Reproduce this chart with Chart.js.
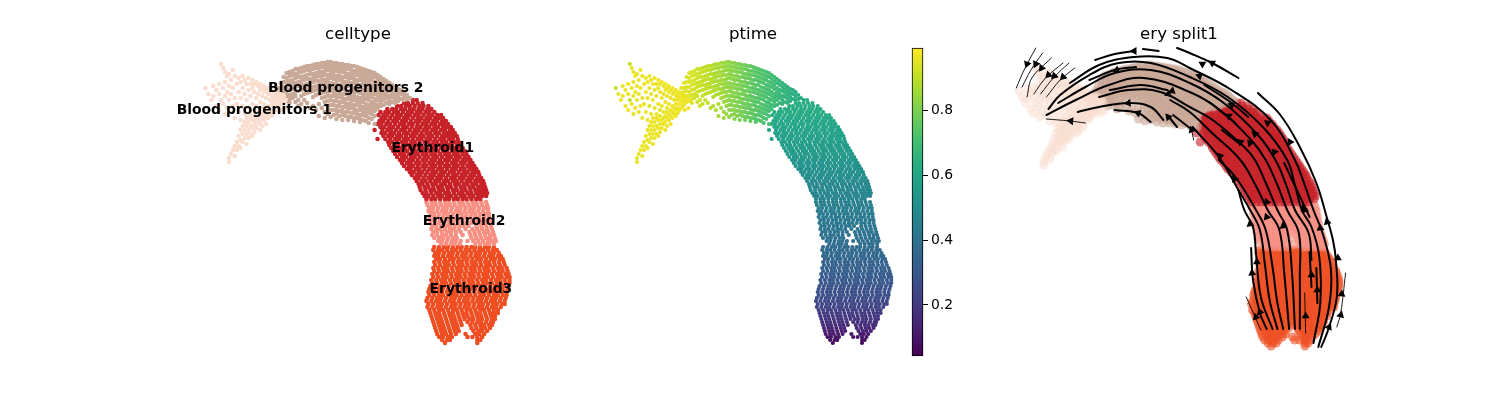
<!DOCTYPE html>
<html>
<head>
<meta charset="utf-8">
<title>celltype / ptime / ery split1</title>
<script src="https://cdn.jsdelivr.net/npm/chart.js@4"></script>
<style>
  html, body { margin: 0; background: #fff; overflow: hidden; }
  canvas { position: absolute; top: 0; }
</style>
</head>
<body>
<canvas id="panel-type" style="left:178px" width="360" height="400"></canvas>
<canvas id="panel-time" style="left:600px" width="306" height="400"></canvas>
<canvas id="colorbar" style="left:911px" width="52" height="400"></canvas>
<canvas id="panel-flow" style="left:1000px" width="358" height="400"></canvas>
<script>
const TITLES = ['celltype', 'ptime', 'ery split1'];
const CELL_TYPES = ['Blood progenitors 1', 'Blood progenitors 2', 'Erythroid1', 'Erythroid2', 'Erythroid3'];
const TYPE_COLORS = ['#f9decf', '#c9a997', '#c72228', '#f79083', '#ef4e22'];
const TYPE_ALPHA = ['80', '99', '99', '99', '99'];
const VIRIDIS = ['#440154', '#482475', '#414487', '#355f8d', '#2a788e', '#21918c', '#22a884', '#44bf70', '#7ad151', '#bddf26', '#fde725'];
const CBAR_RANGE = [0.043, 0.991];
const CBAR_TICKS = [0.2, 0.4, 0.6, 0.8];

// label, x, y (embedding units)
const typeLabels = [
  [CELL_TYPES[0], 252, 110], [CELL_TYPES[1], 345.5, 88],
  [CELL_TYPES[2], 434.5, 148], [CELL_TYPES[3], 466.5, 221], [CELL_TYPES[4], 473.5, 289],
];

// columns: [x, ptime, y, y ...]
const bp1Cols = [[202,.9,88],[205,.96,94],[208,.96,100],[210,.96,86,96],[213,.96,90,106],[216,.97,84,94,110],[218,.9,64,100],[220,.96,68,88,104],[222,.96,72,82,96,114],[224,.97,76,92,108],[226,.96,74,86,100,158,162],[228,.96,80,94,112,154],[230,.97,70,88,106,150],[232,.96,76,98,118,146,156],[234,.96,84,104,142,150],[236,.97,78,92,112,136,146],[238,.96,82,98,120,130,140,148],[240,.96,76,88,106,126,134,142],[242,.96,80,94,114,122,130,138],[244,.97,84,100,118,126,134,144],[246,.96,78,90,108,122,130,138],[248,.96,84,96,114,118,126,134],[250,.97,80,88,104,120,128,136],[252,.96,84,92,110,116,124,132],[254,.97,82,98,106,120,128],[256,.96,86,94,112,118,124],[258,.97,84,90,102,116,122,130],[260,.96,88,96,108,112,118,126],[262,.97,86,92,104,114,120],[264,.96,90,98,110,116,124],[266,.97,88,94,106,112,118],[268,.96,92,100,108,114],[270,.97,90,96,104,110,116],[272,.96,94,100,108,113],[274,.97,92,98,104,110],[276,.97,96,102,108],[278,.96,94,100,106],[280,.97,98,104,110],[282,.96,96,102],[284,.97,100,108]];
const bp2Cols = [[273,.95,93,98],[276,.95,88,93,98],[279,.95,83,88,92,97,101],[282,.94,77,82,87,91,96,100],[285,.94,73,78,82,87,92,96,101],[288,.94,72,76,81,85,90,95,99,103],[291,.93,71,75,80,84,89,94,98],[294,.92,69,74,78,83,87,92,96,102],[297,.92,69,73,77,82,86,91,100,106],[300,.91,68,72,77,81,85,90,96,104],[303,.9,67,71,76,80,85,89,94,100],[306,.9,66,70,75,79,84,88,93,103],[309,.89,66,70,74,79,83,87,92,108],[312,.88,65,69,74,78,82,87,91,97,106],[315,.87,64,68,73,77,81,86,90,95,110],[318,.87,64,68,72,76,81,85,89,94,104,116],[321,.86,63,67,72,76,80,84,89,93,98,108],[324,.85,63,67,71,75,80,84,88,92,97,102,112,118],[327,.84,62,66,70,75,79,83,87,92,96,101,106,114],[330,.83,62,66,70,74,78,83,87,91,96,100,105,110,117],[333,.82,63,67,71,75,79,84,88,92,96,101,105,110,115],[336,.82,63,67,71,76,80,84,88,93,97,101,106,110,114,119],[339,.81,64,68,72,76,80,85,89,93,97,102,106,111,116],[342,.8,64,68,72,77,81,85,89,94,98,102,107,111,115,120],[345,.79,65,69,73,77,82,86,90,94,99,103,107,112,116],[348,.78,65,69,74,78,82,86,91,95,99,104,108,112,117,120],[351,.77,66,70,74,78,83,87,91,96,100,104,108,113,117],[354,.76,66,71,75,79,83,88,92,96,100,105,109,113,118,121],[357,.75,67,71,75,80,84,88,92,97,101,105,110,114,118],[360,.74,68,72,76,80,85,89,93,98,102,106,110,115,119,122],[363,.73,69,73,77,81,85,90,94,98,102,107,111,115,120],[366,.73,70,74,78,82,87,91,95,99,104,108,112,116,121],[369,.72,71,75,79,83,88,92,96,100,105,109,113,118,123],[372,.71,72,76,80,85,89,93,97,102,106,110,114,119],[375,.7,73,77,82,86,90,94,99,103,107,111,116,124],[378,.7,75,79,83,87,92,96,100,105,109],[381,.69,77,81,85,89,94,98,102,106],[384,.68,79,83,88,92,96,100,105],[387,.67,81,85,90,94,98,103],[390,.66,83,87,91,96,100,104],[393,.66,85,89,93,97,102],[396,.65,87,91,95,99,103],[399,.64,89,93,97,101],[402,.64,90,94,99],[405,.63,92,96,100],[408,.63,95,99],[411,.62,98]];

// rows: [y, ptime, x, x ...]
const ery1Rows = [[100,.63,414,418],[103,.63,405,409,414,419,424],[106,.63,398,402,407,411,416,421,425,430],[109,.62,388,393,397,402,406,411,415,420,424,429,433],[112,.62,381,386,390,395,399,404,409,413,418,422,427,431,436],[115,.62,379,384,388,393,398,402,407,411,416,420,425,430,434,439,443],[118,.61,382,386,391,396,400,405,409,414,419,423,428,432,437,441,445],[121,.61,380,384,389,394,398,403,407,412,417,421,426,430,435,439,444,448],[124,.6,378,382,387,391,396,401,405,410,414,419,424,428,433,437,442,446,450],[127,.6,381,385,390,394,399,404,408,413,418,422,427,431,436,440,445,449,453],[130,.59,375,383,388,392,397,402,406,411,416,420,425,429,434,438,443,447,452,455],[133,.59,382,386,391,395,400,405,409,414,418,423,428,432,437,441,446,450,454,457],[136,.58,384,389,393,398,402,407,412,416,421,425,430,434,439,444,448,452,456,459],[139,.58,378,386,391,396,400,405,409,414,419,423,428,432,437,442,446,451,455,460],[142,.57,389,393,398,403,407,412,416,421,426,430,435,439,444,448,453,457,461],[145,.56,390,395,399,404,409,413,418,422,427,432,436,441,445,450,454,459,463],[148,.56,392,397,401,406,411,415,420,424,429,434,438,443,447,452,456,461,465],[151,.55,394,399,403,408,413,417,422,426,431,436,440,445,449,454,458,463,467],[154,.55,396,401,405,410,415,419,424,428,433,437,442,447,451,456,460,465,469],[157,.54,398,403,407,412,416,421,426,430,435,439,444,449,453,458,462,467,471],[160,.53,401,405,410,414,419,424,428,433,437,442,447,451,456,460,465,469,473],[163,.53,403,408,412,417,421,426,431,435,440,444,449,454,458,463,467,472,475],[166,.52,405,410,414,419,424,428,433,437,442,447,451,456,460,465,470,474,477],[169,.51,408,412,417,421,426,431,435,440,444,449,454,458,463,467,472,476,479],[172,.51,411,415,420,424,429,434,438,443,447,452,456,461,466,470,475,479,481],[175,.5,413,418,422,427,432,436,441,445,450,455,459,464,468,473,477,482],[178,.5,416,420,425,430,434,439,443,448,453,457,462,466,471,475,480,484],[181,.49,418,423,427,432,437,441,446,450,455,459,464,469,473,478,482,486],[184,.48,420,424,429,434,438,443,447,452,457,461,466,470,475,479,484,487],[187,.48,421,426,430,435,440,444,449,453,458,463,467,472,476,481,485,488],[190,.47,422,427,432,436,441,445,450,455,459,464,468,473,478,482,486,489],[193,.47,424,428,433,438,442,447,451,456,461,465,470,474,479,483,487,490],[196,.46,426,430,435,440,444,449,453,458,463,467,472,476,481,485,489],[199,.46,428,433,437,442,447,451,456,460,465,469,474,479,483]];
const ery2Rows = [[202,.45,428,433,437,442,447,451,456,461,465,470,475,479,484,489],[205,.45,429,434,438,443,448,452,457,462,466,471,476,480,485,490],[208,.44,431,435,440,445,449,454,459,463,468,473,477,482,487,491],[211,.44,430,434,439,444,448,453,458,462,467,472,476,481,486,491],[214,.43,432,436,441,446,450,455,460,464,469,474,478,483,488,492],[217,.43,431,436,440,445,450,454,459,464,468,473,478,482,487,492],[220,.42,433,437,442,447,451,456,461,465,470,475,479,484,489,493],[223,.42,432,437,441,446,451,455,460,465,469,474,479,483,488,493],[226,.41,434,438,443,448,452,457,462,466,471,479,484,489,494],[229,.41,433,438,442,447,452,456,461,468,475,480,485,490,495],[232,.4,435,439,444,449,453,458,463,472,477,482,487,491,496],[235,.4,434,439,444,448,453,458,465,473,478,483,488,493,497],[238,.39,436,441,445,450,455,459,474,479,484,489,493,498],[241,.39,440,444,449,454,458,463,470,476,481,486,491,495,499],[244,.38,443,448,453,457,462,478,483,488,492,497]];
const ery3Rows = [[247,.37,436,441,446,450,455,460,464,469,474,478,483,488,492,497],[250,.37,435,440,444,449,454,458,463,468,472,477,482,486,491,496,500],[253,.36,437,441,446,451,455,460,465,469,474,479,483,488,493,497,502],[256,.36,436,440,445,450,454,459,464,468,473,478,482,487,492,496,501,504],[259,.35,438,442,447,452,456,461,466,470,475,480,484,489,494,498,503,506],[262,.34,436,441,446,450,455,460,464,469,474,478,483,488,492,497,502,507],[265,.34,437,442,447,451,456,461,465,470,475,479,484,489,493,498,503,508],[268,.33,435,440,445,449,454,459,463,468,473,477,482,487,491,496,501,505,510],[271,.33,436,441,446,450,455,460,464,469,474,478,483,488,492,497,502,506,511],[274,.32,434,439,444,448,453,458,462,467,472,476,481,486,490,495,500,504,509,512],[277,.31,435,440,445,449,454,459,463,468,473,477,482,487,491,496,501,505,510,513],[280,.3,433,438,443,447,452,457,461,466,471,475,480,485,489,494,499,503,508,513],[283,.3,434,439,444,448,453,458,462,467,472,476,481,486,490,495,500,504,509,513],[286,.29,432,437,442,446,451,456,460,465,470,474,479,484,488,493,498,502,507,512],[289,.28,431,436,441,445,450,455,459,464,469,473,478,483,487,492,497,501,506,511],[292,.27,430,435,440,444,449,454,458,463,468,472,477,482,486,491,496,500,505,510],[295,.27,431,436,441,445,450,455,459,464,469,473,478,483,487,492,497,501,506,510],[298,.26,429,434,439,443,448,453,457,462,467,471,476,481,485,490,495,499,504,509],[301,.25,428,433,438,442,447,452,456,461,466,470,475,480,484,489,494,498,503,508],[304,.24,430,435,440,444,449,454,458,463,468,472,477,482,486,491,496,500,505,508],[307,.23,429,434,439,443,448,453,457,462,467,471,476,481,485,490,495,499,504],[310,.22,431,436,441,445,450,455,459,464,469,473,478,483,487,492,497,501],[313,.21,432,437,441,446,451,455,460,465,469,474,479,483,488,493,497,501],[316,.2,433,438,442,447,452,456,461,466,470,475,480,484,489,494,498],[319,.19,434,439,443,448,453,457,462,467,472,476,481,485,490,495,498],[322,.17,435,440,444,449,454,458,463,470,475,480,484,489,494,496],[325,.16,436,441,445,450,455,459,464,473,478,483,487,492,495],[328,.14,437,442,446,451,456,460,474,479,484,488,493],[331,.13,438,443,447,452,457,461,476,481,485,490],[334,.11,439,444,448,453,458,468,478,482,487],[337,.1,441,445,450,454,470,475,480,485],[340,.08,444,449,452,480,483],[343,.07,447,480]];

// velocity stream lines, in the pixels of the third panel
const thickLines = [
  [[1142,49],[1158,51]],
  [[1093,60],[1113,54],[1133,51]],
  [[1177,48],[1190,53],[1213,63],[1240,78]],
  [[1260,93],[1283,115],[1303,147],[1320,183],[1330,215],[1337,240],[1340,260],[1341,297],[1332,330],[1325,347]],
  [[1067,83],[1097,65],[1133,57],[1167,58],[1190,68],[1233,90],[1274,121],[1298,160],[1308,185],[1317,210],[1327,235],[1335,270],[1333,307],[1322,347]],
  [[1045,109],[1057,95],[1087,75],[1117,63],[1150,63],[1190,77],[1229,97],[1266,128],[1290,160],[1298,185],[1305,210],[1315,227],[1323,257],[1324,303],[1317,343]],
  [[1055,103],[1083,87],[1113,73],[1150,70],[1190,83],[1225,103],[1260,135],[1278,160],[1289,185],[1298,210],[1312,233],[1315,260]],
  [[1043,115],[1073,100],[1107,85],[1143,78],[1190,92],[1221,110],[1254,141],[1268,160],[1280,185],[1290,210],[1302,233],[1303,277],[1303,329]],
  [[1097,97],[1127,90],[1160,92],[1190,107],[1215,121],[1247,148],[1257,160],[1269,185],[1280,210],[1290,230],[1295,273],[1298,329]],
  [[1170,100],[1190,112],[1214,134],[1242,160],[1258,186],[1270,210],[1282,230],[1287,273],[1292,329]],
  [[1108,90],[1140,85],[1167,90]],
  [[1075,112],[1097,107],[1127,103],[1150,107],[1163,120]],
  [[1087,80],[1113,70],[1135,67]],
  [[1113,110],[1137,113],[1150,122]],
  [[1167,115],[1177,127]],
  [[1173,115],[1190,128]],
  [[1193,127],[1220,157],[1240,190],[1252,210],[1262,230],[1267,263],[1272,300],[1280,329]],
  [[1220,160],[1237,177],[1258,210],[1268,230],[1275,267],[1280,303],[1286,329]],
  [[1240,190],[1246,210],[1255,227],[1258,253],[1263,297],[1275,329]],
  [[1253,248],[1255,280],[1262,313],[1269,329]],
  [[1205,85],[1233,103],[1250,117]],
  [[1210,102],[1237,123]],
  [[1223,130],[1240,143]],
  [[1287,163],[1313,217]],
  [[1313,252],[1315,287]],
  [[1320,268],[1321,303]],
];
const thinLines = [
  [[1012,88],[1020,70],[1032,48]],
  [[1018,87],[1027,70],[1039,53]],
  [[1023,97],[1028,78],[1048,58]],
  [[1030,94],[1042,78],[1060,63]],
  [[1037,94],[1050,78],[1066,63]],
  [[1043,97],[1057,80],[1072,68]],
  [[1043,119],[1067,121],[1083,123]],
  [[1192,130],[1194,140]],
  [[1248,297],[1263,330]],
  [[1308,293],[1309,333]],
  [[1350,273],[1345,313],[1341,327]],
];
// x, y, heading in degrees (0 = up, clockwise)
const arrowHeads = [
  [1133,51,270],[1115,70,250],[1127,103,265],[1137,113,290],[1068,121,275],[1168,117,320],[1172,91,250],[1168,94,250],
  [1023,64,200],[1032,64,205],[1038,68,215],[1045,75,225],[1051,76,225],[1060,77,225],
  [1203,64,300],[1213,63,300],[1200,76,290],[1233,105,290],[1230,116,300],[1270,123,305],[1257,134,310],[1242,142,310],[1252,143,320],
  [1293,142,330],[1277,152,320],[1221,156,320],[1236,179,330],[1269,202,340],[1307,208,345],[1269,217,340],[1192,130,340],
  [1252,224,350],[1286,226,350],[1259,262,0],[1254,273,355],[1262,312,340],[1258,317,340],[1315,275,0],[1321,290,0],[1309,316,0],
  [1324,228,355],[1331,222,345],[1342,258,0],[1346,294,5],[1345,315,15],[1333,327,25],[1308,210,345],
];

const FONT = '"DejaVu Sans", sans-serif';
Chart.defaults.font.family = FONT;
Chart.defaults.color = '#000';
Chart.defaults.animation = false;
Chart.defaults.plugins.legend.display = false;
Chart.defaults.plugins.tooltip.enabled = false;

function $(id) { return document.getElementById(id); }
function hexRgb(h) { return [1, 3, 5].map(i => parseInt(h.substr(i, 2), 16)); }

function timeColor(t) {
  const u = Math.min(1, Math.max(0, (t - CBAR_RANGE[0]) / (CBAR_RANGE[1] - CBAR_RANGE[0]))) * (VIRIDIS.length - 1);
  const i = Math.min(VIRIDIS.length - 2, Math.floor(u));
  const a = hexRgb(VIRIDIS[i]), b = hexRgb(VIRIDIS[i + 1]);
  return 'rgb(' + a.map((v, k) => Math.round(v + (b[k] - v) * (u - i))).join(',') + ')';
}
function colsToCells(cols, type) {
  return cols.flatMap(c => c.slice(2).map(y => ({ x: c[0], y: y, t: c[1], type: type })));
}
function rowsToCells(rows, type) {
  return rows.flatMap(r => r.slice(2).map(x => ({ x: x, y: r[0], t: r[1], type: type })));
}
const cellGroups = [
  colsToCells(bp1Cols, 0), colsToCells(bp2Cols, 1),
  rowsToCells(ery1Rows, 2), rowsToCells(ery2Rows, 3), rowsToCells(ery3Rows, 4),
];

function hiddenAxis(min, max, reverse) {
  return { type: 'linear', display: false, min: min, max: max, reverse: !!reverse };
}
function titleOpts(text) {
  return {
    display: true, text: text, color: '#000', fullSize: false,
    font: { family: FONT, size: 16.67, weight: 'normal' },
    padding: { top: 25, bottom: 3 },
  };
}
function cellDatasets(colorOf, radius) {
  return cellGroups.map(cells => ({
    data: cells,
    backgroundColor: cells.map(colorOf),
    borderWidth: 0, pointRadius: radius, clip: false, order: 5,
  }));
}

const labelPlugin = {
  id: 'typeLabels',
  afterDatasetsDraw(chart) {
    const c = chart.ctx;
    c.save();
    c.font = 'bold 13.9px ' + FONT;
    c.fillStyle = '#000';
    c.textAlign = 'center';
    c.textBaseline = 'middle';
    typeLabels.forEach(l => c.fillText(l[0], chart.scales.x.getPixelForValue(l[1]), chart.scales.y.getPixelForValue(l[2])));
    c.restore();
  },
};

new Chart($('panel-type'), {
  type: 'scatter',
  data: { datasets: cellDatasets(p => TYPE_COLORS[p.type], 2.3) },
  options: {
    responsive: false,
    layout: { padding: { bottom: 44 } },
    plugins: { title: titleOpts(TITLES[0]) },
    scales: { x: hiddenAxis(178, 538), y: hiddenAxis(48, 356, true) },
  },
  plugins: [labelPlugin],
});

new Chart($('panel-time'), {
  type: 'scatter',
  data: { datasets: cellDatasets(p => timeColor(p.t), 2.1) },
  options: {
    responsive: false,
    layout: { padding: { bottom: 44 } },
    plugins: { title: titleOpts(TITLES[1]) },
    scales: { x: hiddenAxis(188.8, 525.1), y: hiddenAxis(48, 356, true) },
  },
});

new Chart($('colorbar'), {
  type: 'bar',
  data: {
    labels: [''],
    datasets: [{
      data: [CBAR_RANGE],
      backgroundColor(ctx) {
        const area = ctx.chart.chartArea;
        if (!area) return VIRIDIS[5];
        const g = ctx.chart.ctx.createLinearGradient(0, area.bottom, 0, area.top);
        VIRIDIS.forEach((c, i) => g.addColorStop(i / (VIRIDIS.length - 1), c));
        return g;
      },
      borderColor: '#000', borderWidth: 1, borderSkipped: false,
      barPercentage: 1, categoryPercentage: 1, clip: false,
    }],
  },
  options: {
    responsive: false,
    layout: { padding: { left: 1, top: 48, bottom: 44 } },
    scales: {
      x: { display: false },
      y: {
        position: 'right', min: CBAR_RANGE[0], max: CBAR_RANGE[1],
        afterBuildTicks(axis) { axis.ticks = CBAR_TICKS.map(v => ({ value: v })); },
        afterFit(axis) { axis.width = 40; },
        grid: { drawOnChartArea: false, tickLength: 5, tickColor: '#000', tickWidth: 1 },
        border: { display: false },
        ticks: { padding: 3, color: '#000', font: { family: FONT, size: 13.9 }, callback: v => v.toFixed(1) },
      },
    },
  },
});

function lineDataset(line, width) {
  return {
    data: line.map(p => ({ x: p[0], y: p[1] })),
    xAxisID: 'xs', yAxisID: 'ys',
    showLine: true, borderColor: '#000', borderWidth: width, tension: 0.4,
    borderCapStyle: 'round', pointRadius: 0, clip: false, order: 1,
  };
}
new Chart($('panel-flow'), {
  type: 'scatter',
  data: {
    datasets: [
      {
        data: arrowHeads.map(a => ({ x: a[0], y: a[1] })),
        xAxisID: 'xs', yAxisID: 'ys',
        pointStyle: 'triangle', pointRadius: 4.6, borderWidth: 0,
        pointRotation: arrowHeads.map(a => a[2]),
        backgroundColor: '#000', clip: false, order: 0,
      },
      ...thickLines.map(l => lineDataset(l, 2)),
      ...thinLines.map(l => lineDataset(l, 0.9)),
      ...cellDatasets(p => TYPE_COLORS[p.type] + TYPE_ALPHA[p.type], 4.5),
    ],
  },
  options: {
    responsive: false,
    layout: { padding: { bottom: 44 } },
    plugins: { title: titleOpts(TITLES[2]) },
    scales: {
      x: hiddenAxis(187.8, 527.1), y: hiddenAxis(45, 353, true),
      xs: hiddenAxis(1000, 1358), ys: hiddenAxis(48, 356, true),
    },
  },
});
</script>
</body>
</html>
